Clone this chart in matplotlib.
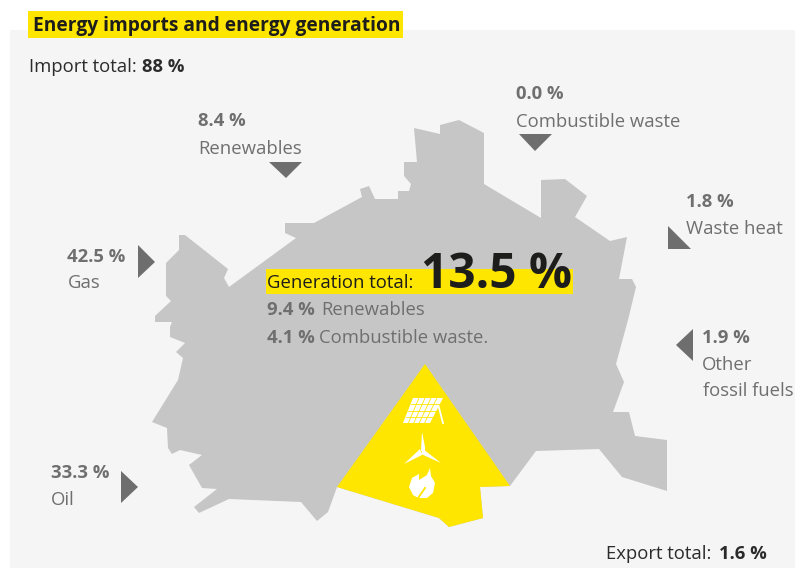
import matplotlib
matplotlib.use("Agg")
import matplotlib.pyplot as plt
from matplotlib.patches import Polygon, Rectangle

plt.rcParams["font.family"] = ["Open Sans", "DejaVu Sans"]

YELLOW = "#ffe600"
PANEL = "#f5f5f5"
MAP_GREY = "#c6c6c6"
ARROW = "#6e6e6e"
LABEL = "#6f6f6f"
DARK = "#2b2b2b"
INK = "#1d1d1b"

title = "Energy imports and energy generation"
import_total = "88 %"
export_total = "1.6 %"
generation_total = "13.5 %"

source_names = ["Renewables", "Combustible waste", "Waste heat", "Gas", "Oil"]
source_values = ["8.4 %", "0.0 %", "1.8 %", "42.5 %", "33.3 %"]
other_name = ["Other", "fossil fuels"]
other_value = "1.9 %"

generation_names = ["Renewables", "Combustible waste."]
generation_values = ["9.4 %", "4.1 %"]

# outline of the map, picture pixels
map_x = [166, 179, 179, 185, 228, 224, 229, 296, 285, 285, 314, 362, 360, 369, 375, 398, 398,
         409, 411, 404, 404, 417, 414, 440, 440, 459, 484, 484, 541, 541, 565, 587, 575, 610, 627,
         619, 632, 636, 628, 616, 624, 613, 629, 635, 667, 667, 622, 599, 536, 510, 480, 483, 449,
         439, 337, 328, 317, 301, 229, 199, 194, 217, 202, 189, 202, 180, 172, 168, 167, 152, 178,
         183, 176, 185, 170, 170, 172, 155, 155, 171, 166]
map_y = [263, 250, 235, 235, 269, 278, 287, 238, 233, 223, 223, 197, 189, 186, 199, 199, 191,
         191, 184, 176, 162, 162, 128, 134, 125, 120, 133, 184, 218, 180, 179, 196, 217, 241, 237,
         279, 279, 287, 320, 364, 382, 412, 412, 436, 440, 491, 477, 449, 451, 486, 487, 518, 527,
         518, 487, 512, 521, 502, 499, 513, 507, 489, 488, 465, 455, 450, 454, 448, 428, 422, 380,
         358, 352, 343, 337, 327, 322, 322, 316, 301, 296]

wedge_x = [425, 510, 480, 483, 449, 439, 337]
wedge_y = [364, 486, 487, 518, 527, 518, 487]

arrows = [
    [(269, 162), (302, 162), (286, 178)],
    [(519, 134), (552, 134), (535, 151)],
    [(668, 226), (668, 249), (691, 249)],
    [(138, 245), (138, 278), (155, 262)],
    [(121, 471), (121, 503), (138, 487)],
    [(693, 329), (693, 361), (676, 345)],
]

flame = [(430, 468), (431, 476), (435, 483), (433, 493), (427, 498), (418, 498), (413, 495),
         (409, 487), (412, 478), (419, 474), (419, 480), (427, 475)]

fig = plt.figure(figsize=(7.95, 5.68), dpi=100, facecolor="white")
ax = fig.add_axes([0, 0, 1, 1])
ax.set_xlim(0, 795)
ax.set_ylim(568, 0)
ax.axis("off")

NAME_SIZE = 13.3
VALUE_SIZE = 13.3


def put(x, y, s, size=NAME_SIZE, color=LABEL, weight="normal", **kw):
    return ax.text(x, y, s, fontsize=size, color=color, fontweight=weight, va="baseline", ha="left", **kw)


def poly(pts, color, z=2):
    ax.add_patch(Polygon(pts, closed=True, facecolor=color, edgecolor="none", zorder=z))


ax.add_patch(Rectangle((10, 30), 785, 538, facecolor=PANEL, edgecolor="none", zorder=0))
ax.add_patch(Rectangle((28, 11), 375, 27, facecolor=YELLOW, edgecolor="none", zorder=1))
poly(list(zip(map_x, map_y)), MAP_GREY)
poly(list(zip(wedge_x, wedge_y)), YELLOW, 3)
ax.add_patch(Rectangle((266, 269), 307, 25, facecolor=YELLOW, edgecolor="none", zorder=3))

for tri in arrows:
    poly(tri, ARROW)

# solar panel
poly([(413, 398), (443, 398), (430, 423), (403, 423)], "white", 4)
for t in [0.2, 0.4, 0.6, 0.8]:
    ax.plot([413 + 30 * t, 403 + 27 * t], [398, 423], color=YELLOW, lw=0.6, zorder=5)
for t in [0.25, 0.5, 0.75]:
    ax.plot([413 - 10 * t, 443 - 13 * t], [398 + 25 * t, 398 + 25 * t], color=YELLOW, lw=0.6, zorder=5)
ax.plot([438, 443], [404, 423], color="white", lw=1.3, zorder=4)

# wind turbine
poly([(421, 451), (422, 432), (425, 447), (425, 452)], "white", 4)
poly([(420, 449), (404, 464), (422, 455)], "white", 4)
poly([(423, 449), (441, 463), (421, 454)], "white", 4)

# flame
poly(flame, "white", 4)
ax.plot([416, 425], [501, 488], color=YELLOW, lw=1.3, zorder=5)

# texts
put(33, 31, title, size=13.8, color=INK, weight="bold")
put(29, 72, "Import total:", color=DARK)
put(142, 72, import_total, size=VALUE_SIZE, color=DARK, weight="bold")

value_pos = [(198, 126), (516, 99), (686, 207), (67, 262), (51, 478)]
name_pos = [(198, 154), (516, 127), (686, 234), (68, 288), (51, 505)]
for v, n, vp, np_ in zip(source_values, source_names, value_pos, name_pos):
    put(vp[0], vp[1], v, size=VALUE_SIZE, weight="bold")
    put(np_[0], np_[1], n)

put(702, 343, other_value, size=VALUE_SIZE, weight="bold")
put(702, 370, other_name[0])
put(703, 396, other_name[1])

put(267, 288, "Generation total:", color=INK, zorder=6)
put(421, 288, generation_total, size=34.4, color=INK, weight="bold", zorder=6)
put(267, 315, generation_values[0], size=VALUE_SIZE, weight="bold", zorder=6)
put(321, 315, generation_names[0], zorder=6)
put(267, 343, generation_values[1], size=VALUE_SIZE, weight="bold", zorder=6)
put(319, 343, generation_names[1], zorder=6)

put(606, 559, "Export total:", color=DARK)
put(719, 559, export_total, size=VALUE_SIZE, color=DARK, weight="bold")

fig.savefig("out.png", dpi=100)
plt.close(fig)
